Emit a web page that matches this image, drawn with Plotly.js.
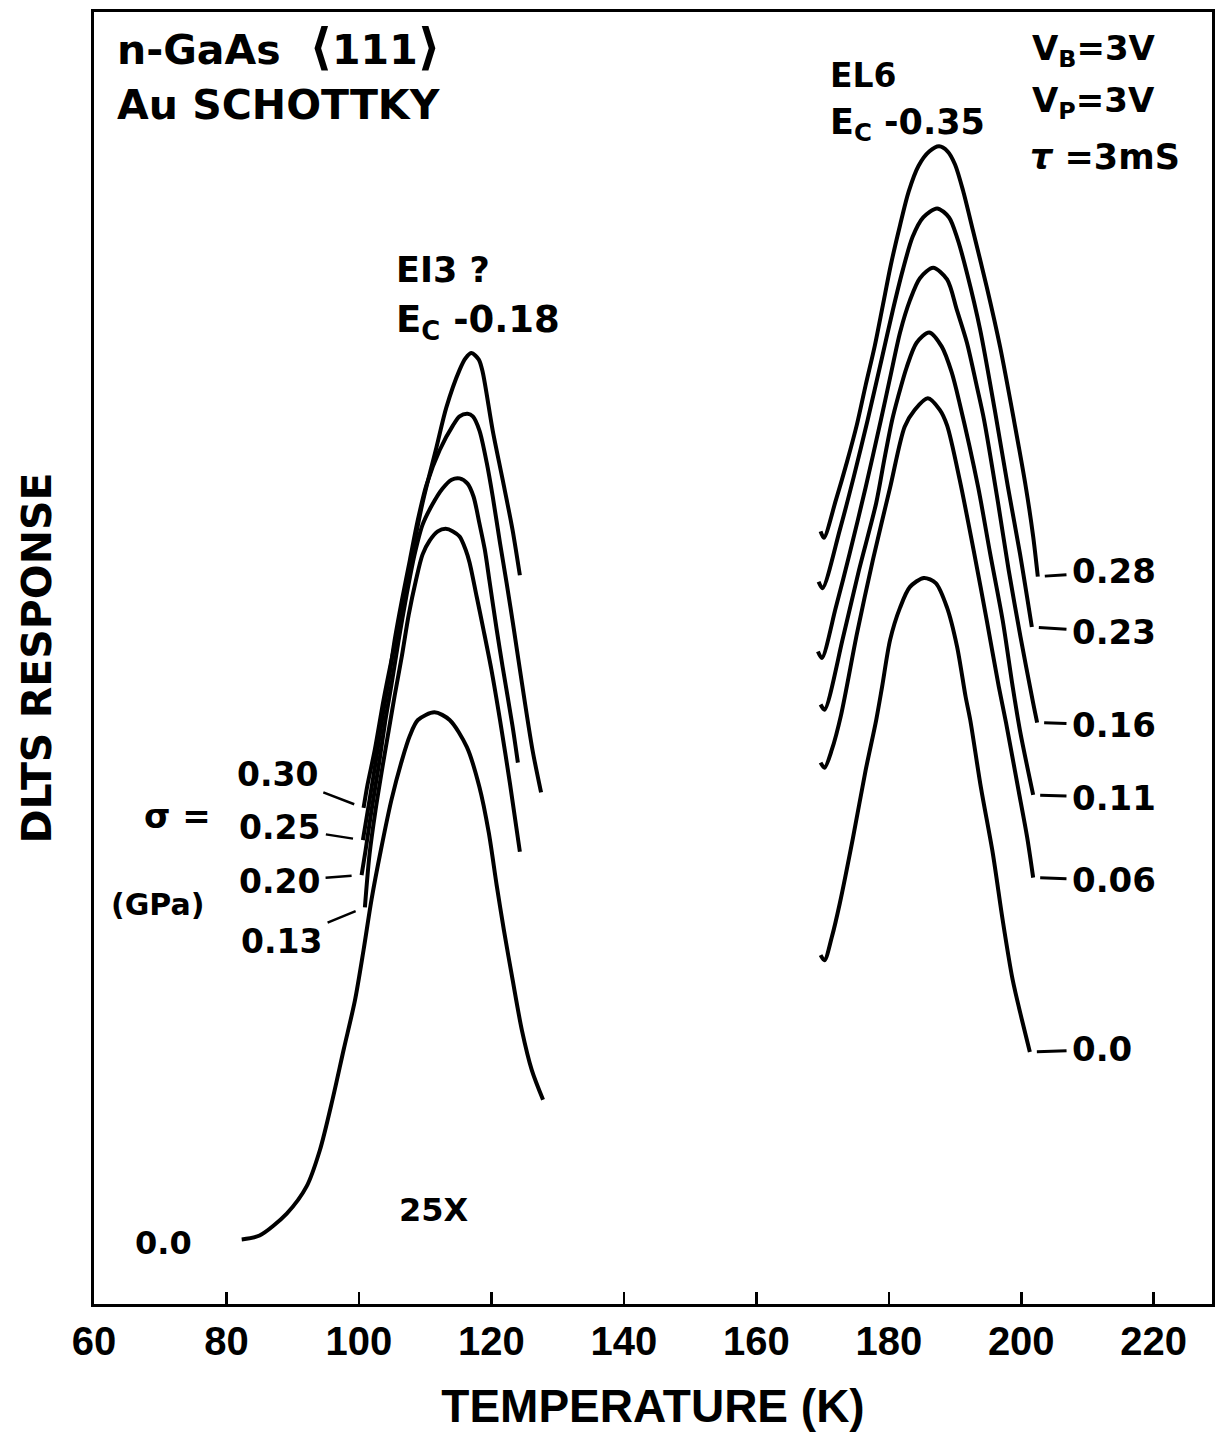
<!DOCTYPE html>
<html>
<head>
<meta charset="utf-8">
<script src="https://cdn.plot.ly/plotly-3.0.1.min.js"></script>
<style>html,body{margin:0;padding:0;background:#fff}</style>
</head>
<body>
<div id="chart" style="width:1225px;height:1432px"></div>
<script>
// Temperature (K) and DLTS response (arb. units)
// EI3 peak (left group), sigma in GPa
const T_EI3_000 = [82.3,85.0,89.1,92.1,94.1,96.0,97.7,99.4,100.7,101.9,103.3,104.9,106.5,107.7,108.9,111.4,113.7,116.3,118.2,119.6,120.8,121.9,123.2,124.6,126.1,127.8];
const V_EI3_000 = [5.0,5.3,7.0,9.1,11.9,15.8,19.7,23.5,27.4,31.3,35.1,39.0,42.1,44.0,45.2,45.8,45.2,43.1,40.0,36.5,32.4,28.9,25.1,21.2,18.1,15.8];

const T_EI3_013 = [100.9,101.6,102.5,103.6,104.5,105.4,106.5,107.5,108.6,109.6,110.7,111.9,113.1,114.2,115.2,116.1,116.7,117.8,118.8,120.0,121.3,122.8,124.3];
const V_EI3_013 = [30.7,34.8,38.2,41.7,44.4,47.1,50.2,53.3,56.0,58.0,59.1,59.8,60.0,59.8,59.4,58.4,57.4,54.7,52.2,49.1,45.2,40.3,35.0];

const T_EI3_020 = [100.4,101.0,101.9,103.0,104.0,104.9,106.0,107.2,108.4,109.6,111.0,112.6,114.0,115.2,116.4,117.3,118.2,119.0,119.7,120.8,121.7,123.2,124.0];
const V_EI3_020 = [33.2,35.1,38.2,41.7,45.2,47.9,51.4,54.9,58.0,60.3,61.8,63.1,63.8,63.9,63.5,62.5,60.4,58.4,56.0,52.2,49.3,44.7,41.9];

const T_EI3_025 = [100.6,101.6,102.7,103.6,104.5,105.4,106.5,107.7,108.9,110.2,112.2,114.2,115.2,116.4,117.2,118.2,119.3,120.2,121.3,122.3,123.4,124.6,126.2,127.5];
const V_EI3_025 = [35.9,39.0,42.5,45.6,48.3,51.4,54.5,57.6,60.7,63.4,66.1,68.0,68.7,68.9,68.7,67.6,65.1,62.5,58.9,55.8,52.2,48.1,42.9,39.6];

const T_EI3_030 = [100.7,101.3,102.4,103.7,104.9,106.1,107.8,109.6,111.7,113.2,115.2,116.1,117.0,118.1,118.7,120.2,121.7,123.2,124.3];
const V_EI3_030 = [38.4,40.2,42.9,46.7,49.8,52.7,57.4,62.0,66.3,69.4,72.3,73.2,73.6,73.1,72.1,67.6,63.8,59.9,56.4];

// EL6 peak (right group)
const T_EL6_000 = [169.7,170.3,171.4,172.6,174.6,176.5,178.1,179.0,180.2,181.7,183.2,185.3,187.1,188.8,190.3,191.6,192.3,193.9,195.7,197.2,198.7,200.1,201.3];
const V_EL6_000 = [27.0,26.6,28.4,31.0,36.1,41.3,45.2,47.8,51.4,53.9,55.5,56.2,55.8,53.9,50.9,47.0,45.2,40.0,34.9,29.7,25.1,22.0,19.5];

const T_EL6_006 = [169.7,170.3,171.4,172.8,175.2,177.6,180.2,182.4,183.9,185.9,187.7,188.8,190.7,192.9,194.8,196.6,197.7,199.5,200.9,201.8];
const V_EL6_006 = [41.9,41.5,42.9,45.6,51.9,57.6,63.2,67.9,69.2,70.1,69.2,68.0,63.8,58.1,52.9,47.8,45.0,40.0,36.1,33.0];

const T_EL6_011 = [169.7,170.3,173.1,175.5,178.1,179.3,180.5,181.4,182.7,184.2,186.1,188.0,189.5,190.7,193.5,195.3,197.2,198.7,199.8,201.8];
const V_EL6_011 = [46.4,46.0,51.6,56.8,62.0,65.3,68.4,70.2,72.5,74.4,75.2,74.1,72.1,69.7,63.2,58.1,52.9,47.8,44.4,39.4];

const T_EL6_016 = [169.3,169.9,172.0,174.1,176.5,178.8,180.2,181.7,183.2,184.7,186.7,188.8,190.3,191.8,193.3,194.4,196.5,198.1,199.9,201.8,202.4];
const V_EL6_016 = [50.5,50.0,53.9,58.1,63.2,68.4,71.7,75.2,77.7,79.4,80.2,79.3,76.9,74.4,71.0,68.4,62.0,56.8,51.6,46.5,45.0];

const T_EL6_023 = [169.4,170.0,172.6,174.7,176.8,179.0,180.6,182.1,183.6,185.2,187.3,189.1,190.4,191.8,193.8,196.0,198.0,199.8,201.6];
const V_EL6_023 = [55.9,55.4,59.9,64.0,68.4,73.3,76.9,80.0,82.6,84.1,84.8,84.1,82.4,79.8,75.4,69.2,63.2,58.1,52.4];

const T_EL6_028 = [169.7,170.2,172.0,173.7,175.2,176.5,177.9,179.1,180.3,181.7,183.0,184.5,186.1,187.6,188.9,190.0,191.2,192.7,194.8,196.8,198.9,200.7,201.8,202.5];
const V_EL6_028 = [59.8,59.3,62.2,65.2,68.1,71.1,74.2,77.3,80.4,83.5,86.1,88.1,89.2,89.6,89.2,88.2,86.2,83.1,78.7,74.1,68.4,63.2,59.4,56.3];

// stress labels (GPa)
const EI3_LABELS = ['0.0','0.13','0.20','0.25','0.30'];
const EL6_LABELS = ['0.0','0.06','0.11','0.16','0.23','0.28'];
const X_TICKS = [60,80,100,120,140,160,180,200,220];

const EI3 = [[T_EI3_000,V_EI3_000],[T_EI3_013,V_EI3_013],[T_EI3_020,V_EI3_020],[T_EI3_025,V_EI3_025],[T_EI3_030,V_EI3_030]];
const EL6 = [[T_EL6_000,V_EL6_000],[T_EL6_006,V_EL6_006],[T_EL6_011,V_EL6_011],[T_EL6_016,V_EL6_016],[T_EL6_023,V_EL6_023],[T_EL6_028,V_EL6_028]];

const lineStyle = {color:'#000', width:4, shape:'spline', smoothing:0.8};
const traces = [];
EI3.forEach((c,i)=>traces.push({x:c[0], y:c[1], mode:'lines', line:lineStyle, name:'EI3 σ='+EI3_LABELS[i], hoverinfo:'skip', showlegend:false}));
EL6.forEach((c,i)=>traces.push({x:c[0], y:c[1], mode:'lines', line:lineStyle, name:'EL6 σ='+EL6_LABELS[i], hoverinfo:'skip', showlegend:false}));

const f = (size)=>({family:'DejaVu Sans', color:'#000', weight:'bold', size:size});

const ann = [];
function txt(x, y, text, size, extra){
  ann.push(Object.assign({x:x, y:y, xref:'x', yref:'y', text:text, showarrow:false, xanchor:'left', yanchor:'middle', font:f(size)}, extra||{}));
}
txt(63.1, 97.3, 'n-GaAs\u00a0\u00a0<span style="font-size:50px">⟨</span>111<span style="font-size:50px">⟩</span>', 41);
txt(63.1, 92.8, 'Au SCHOTTKY', 41);
txt(105.3, 80.0, 'EI3 ?', 35);
txt(105.3, 76.0, 'E<sub>C</sub> -0.18', 37);
txt(170.8, 95.1, 'EL6', 33);
txt(170.8, 91.3, 'E<sub>C</sub> -0.35', 35);
txt(201.3, 97.0, 'V<sub>B</sub>=3V', 34);
txt(201.3, 93.0, 'V<sub>P</sub>=3V', 34);
txt(201.0, 88.8, '<i>τ</i> =3mS', 35);
txt(67.3, 37.8, 'σ =', 34);
txt(62.3, 30.9, '(GPa)', 30);
txt(105.7, 7.3, '25X', 32);

// left (EI3) stress labels with leader lines pointing at curve starts
const leftOffsets = [null, [-83,34], [-82,6], [-83,-13], [-86,-33]];
EI3.forEach((c,i)=>{
  if(i===0){
    ann.push({x:c[0][0], y:c[1][0], xref:'x', yref:'y', text:EI3_LABELS[0], showarrow:false, xanchor:'right', yanchor:'middle', xshift:-48, yshift:-4, font:f(32)});
  } else {
    ann.push({x:c[0][0], y:c[1][0], xref:'x', yref:'y', text:EI3_LABELS[i], showarrow:true, arrowhead:0, arrowwidth:2.5, arrowcolor:'#000', ax:leftOffsets[i][0], ay:leftOffsets[i][1], standoff:10, startstandoff:4, font:f(33)});
  }
});
// right (EL6) stress labels: text at fixed spot, short leader dash to each curve end
const rightLabelX = [212.2, 214.0, 214.0, 214.0, 214.0, 214.0];
const rightLabelY = [19.7, 32.8, 39.2, 44.8, 52.0, 56.7];
EL6.forEach((c,i)=>{
  const n = c[0].length-1;
  ann.push({x:c[0][n], y:c[1][n], xref:'x', yref:'y', axref:'x', ayref:'y', ax:rightLabelX[i], ay:rightLabelY[i],
    text:EL6_LABELS[i], showarrow:true, arrowhead:0, arrowwidth:3, arrowcolor:'#000', standoff:7, startstandoff:4, font:f(34)});
});

const layout = {
  width:1225, height:1432,
  margin:{l:94, r:13, t:12, b:128, pad:0},
  paper_bgcolor:'#fff', plot_bgcolor:'#fff',
  showlegend:false,
  xaxis:{
    range:[60,228.8], tickvals:X_TICKS, ticks:'inside', ticklen:12, tickwidth:2.5, tickcolor:'#000',
    showline:true, linewidth:3, linecolor:'#000', mirror:true, showgrid:false, zeroline:false,
    tickfont:{family:'Liberation Sans', size:40, color:'#000', weight:'bold'},
    title:{text:'TEMPERATURE (K)', font:{family:'Liberation Sans', size:46, color:'#000', weight:'bold'}, standoff:30},
    automargin:false, fixedrange:true
  },
  yaxis:{
    range:[0,100], showticklabels:false, ticks:'', showline:true, linewidth:3, linecolor:'#000', mirror:true,
    showgrid:false, zeroline:false,
    title:{text:'DLTS RESPONSE', font:{family:'DejaVu Sans', size:41, color:'#000', weight:'bold'}, standoff:27},
    automargin:false, fixedrange:true
  },
  annotations:ann
};
Plotly.newPlot('chart', traces, layout, {staticPlot:true, displayModeBar:false});
</script>
</body>
</html>
